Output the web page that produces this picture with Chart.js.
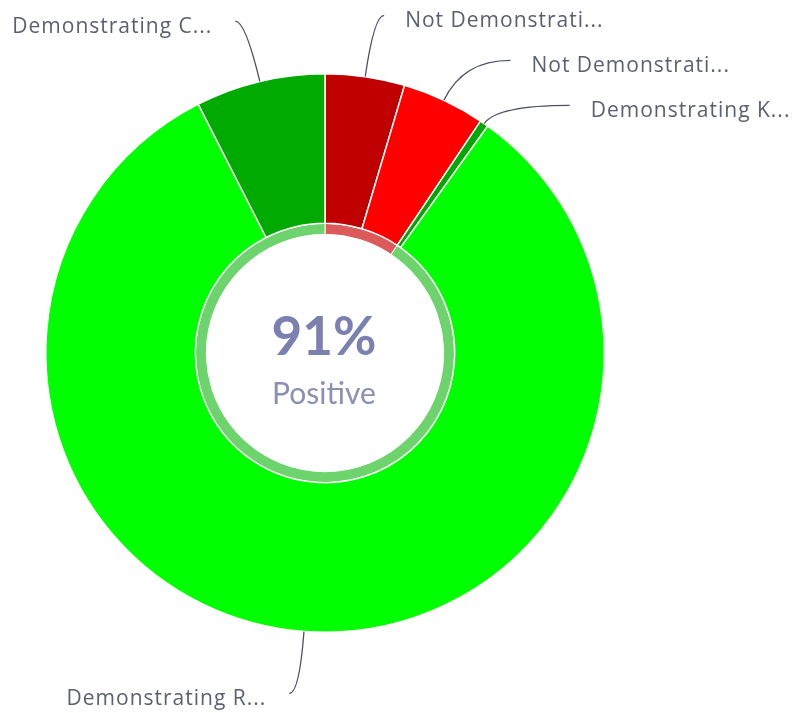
<!DOCTYPE html>
<html lang="en">
<head>
    <meta charset="UTF-8">
    <title>Positive Ratio</title>
    <script src="https://cdn.jsdelivr.net/npm/chart.js"></script>
    <style>
        body { margin: 0; background: #fff; }
        #wrap { width: 797px; height: 713px; }
    </style>
</head>
<body>
    <div id="wrap"><canvas id="ratioChart" width="797" height="713"></canvas></div>

    <script>
        // chart data
        const segmentLabels = ['Not Demonstrati...', 'Not Demonstrati...', 'Demonstrating K...', 'Demonstrating R...', 'Demonstrating C...'];
        const segmentValues = [4.6, 4.8, 0.5, 82.6, 7.5];
        const segmentColors = ['#c00000', '#ff0000', '#00a800', '#00ff00', '#00aa00'];

        const summaryLabels = ['Negative', 'Positive'];
        const summaryValues = [9.4, 90.6];
        const summaryColors = ['#dc5a5a', '#6dd36d'];

        const centerValue = '91%';
        const centerLabel = 'Positive';

        // leader lines + outside labels
        const outsideLabels = {
            id: 'outsideLabels',
            afterDatasetsDraw(chart) {
                const ctx = chart.ctx;
                const meta = chart.getDatasetMeta(0);
                const items = meta.data.map((arc, i) => {
                    const p = arc.getProps(['x', 'y', 'startAngle', 'endAngle', 'outerRadius'], true);
                    const mid = (p.startAngle + p.endAngle) / 2;
                    const R = p.outerRadius;
                    const Rl = R + 62;
                    return {
                        text: chart.data.labels[i],
                        cx: p.x, cy: p.y, mid: mid, R: R, Rl: Rl,
                        sx: p.x + Math.cos(mid) * R,
                        sy: p.y + Math.sin(mid) * R,
                        ey: p.y + Math.sin(mid) * Rl,
                        right: Math.cos(mid) >= 0
                    };
                });

                // push labels apart vertically
                const gap = 45;
                [true, false].forEach(side => {
                    const list = items.filter(it => it.right === side).sort((a, b) => a.ey - b.ey);
                    for (let i = 1; i < list.length; i++) {
                        if (list[i].ey < list[i - 1].ey + gap) list[i].ey = list[i - 1].ey + gap;
                    }
                });

                ctx.save();
                ctx.strokeStyle = '#4c5068';
                ctx.lineWidth = 1.3;
                ctx.fillStyle = '#5c5f72';
                ctx.font = '21px "Open Sans", sans-serif';
                ctx.letterSpacing = '1px';
                ctx.textBaseline = 'middle';

                items.forEach(it => {
                    const dy = it.ey - it.cy;
                    const dx = Math.sqrt(Math.max(0, it.Rl * it.Rl - dy * dy)) + 10;
                    const ex = it.right ? it.cx + dx : it.cx - dx;
                    // control point: along the radial direction at the label's height
                    const dirX = Math.cos(it.mid), dirY = Math.sin(it.mid);
                    let t = Math.abs(dirY) > 0.05 ? (it.ey - it.sy) / dirY : 20;
                    t = Math.max(8, Math.min(t, 80));
                    const qx = it.sx + dirX * t;
                    const qy = it.sy + dirY * t;

                    ctx.beginPath();
                    ctx.moveTo(it.sx, it.sy);
                    ctx.quadraticCurveTo(qx, qy, ex, it.ey);
                    ctx.stroke();

                    if (it.right) {
                        ctx.textAlign = 'left';
                        ctx.fillText(it.text, ex + 21, it.ey + 6);
                    } else {
                        ctx.textAlign = 'right';
                        ctx.fillText(it.text, ex - 23, it.ey + 6);
                    }
                });
                ctx.restore();
            }
        };

        const centerText = {
            id: 'centerText',
            afterDatasetsDraw(chart) {
                const arc = chart.getDatasetMeta(0).data[0];
                const p = arc.getProps(['x', 'y'], true);
                const ctx = chart.ctx;
                ctx.save();
                ctx.textAlign = 'center';
                ctx.textBaseline = 'middle';
                ctx.fillStyle = '#7b80b0';
                ctx.font = 'bold 53px Lato, sans-serif';
                ctx.fillText(centerValue, p.x - 1, p.y - 15);
                ctx.fillStyle = '#8a8fb6';
                ctx.font = '30px Lato, sans-serif';
                ctx.fillText(centerLabel, p.x - 1, p.y + 41);
                ctx.restore();
            }
        };

        new Chart(document.getElementById('ratioChart'), {
            type: 'doughnut',
            data: {
                labels: segmentLabels,
                datasets: [{
                    data: segmentValues,
                    backgroundColor: segmentColors,
                    borderColor: '#ffffff',
                    borderWidth: 1.5,
                    weight: 150
                }, {
                    data: summaryValues,
                    backgroundColor: summaryColors,
                    borderColor: '#ffffff',
                    borderWidth: 1,
                    weight: 11
                }]
            },
            options: {
                responsive: false,
                animation: false,
                cutout: '42.5%',
                layout: { padding: { left: 45, right: 192, top: 73, bottom: 80 } },
                plugins: {
                    legend: { display: false },
                    tooltip: { enabled: false }
                }
            },
            plugins: [outsideLabels, centerText]
        });
    </script>
</body>
</html>
